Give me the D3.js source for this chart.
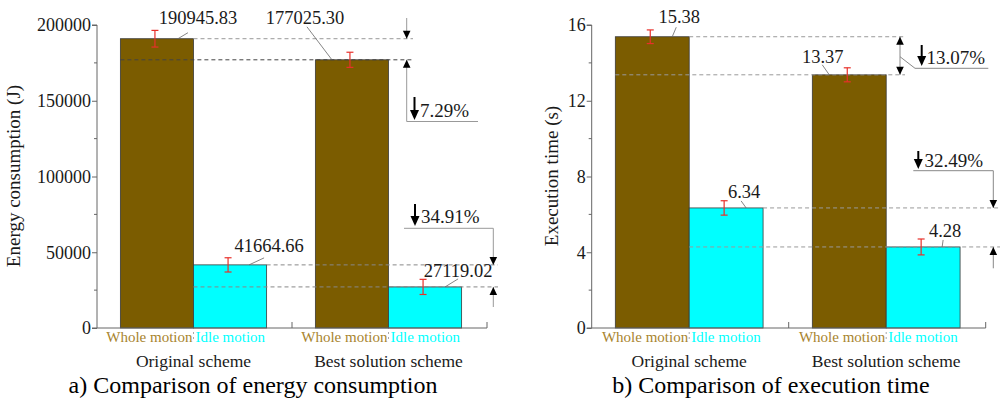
<!DOCTYPE html>
<html>
<head>
<meta charset="utf-8">
<script src="https://cdn.jsdelivr.net/npm/d3@7"></script>
<style>
  body { margin: 0; background: #fff; }
  svg { display: block; }
</style>
</head>
<body>
<svg id="chart" width="1000" height="402"></svg>
<script>
// data
const groups = ["Original scheme", "Best solution scheme"];
const parts = ["Whole motion", "Idle motion"];

const energyValues = [[190945.83, 41664.66], [177025.30, 27119.02]];
const energyErr = [[5500, 4700], [5000, 5000]];
const energyTicks = [0, 50000, 100000, 150000, 200000];
const energyMinor = [25000, 75000, 125000, 175000];

const timeValues = [[15.38, 6.34], [13.37, 4.28]];
const timeErr = [[0.36, 0.38], [0.37, 0.42]];
const timeTicks = [0, 4, 8, 12, 16];
const timeMinor = [2, 6, 10, 14];

const brown = "#7b5c00";
const cyan = "#00ffff";
const wholeText = "#a8842e";
const serif = '"Liberation Serif"';

let svg = d3.select("#chart");

function arrowHead(g, x, y, dir) {
    // dir 1 = pointing down (tip at y), -1 = pointing up
    let h = 8, w = 3.8;
    g.append("path")
        .attr("d", `M${x},${y} L${x - w},${y - dir * h} L${x + w},${y - dir * h} Z`)
        .attr("fill", "#000");
}

function bigDown(g, x, yTop, yTip) {
    g.append("line").attr("x1", x).attr("x2", x).attr("y1", yTop).attr("y2", yTip - 6)
        .attr("stroke", "#000").attr("stroke-width", 2);
    g.append("path")
        .attr("d", `M${x},${yTip} L${x - 4.5},${yTip - 10} L${x + 4.5},${yTip - 10} Z`)
        .attr("fill", "#000");
}

function dashed(g, x1, x2, y, col) {
    g.append("line").attr("x1", x1).attr("x2", x2).attr("y1", y).attr("y2", y)
        .attr("stroke", col).attr("stroke-width", 1).attr("stroke-dasharray", "4,3");
}

function label(g, x, y, size, txt) {
    return g.append("text").attr("x", x).attr("y", y)
        .style("font-family", serif).style("font-size", size + "px")
        .attr("fill", "#1a1a1a").text(txt);
}

function drawPanel(opt) {
    let g = svg.append("g");
    let x0 = opt.x0, x1 = opt.x1, yTop = 25, yBot = 328;

    let y = d3.scaleLinear().domain(opt.domain).range([yBot, yTop]);
    let xg = d3.scaleBand().domain(groups).range([x0, x1]);
    let xp = d3.scaleBand().domain(parts).range([0, xg.bandwidth() * 0.75]);
    let pairOff = (xg.bandwidth() - xp.range()[1]) / 2 - 1;

    // bars
    groups.forEach((grp, gi) => {
        parts.forEach((p, pi) => {
            let v = opt.values[gi][pi];
            g.append("rect")
                .attr("x", xg(grp) + pairOff + xp(p))
                .attr("y", y(v))
                .attr("width", xp.bandwidth())
                .attr("height", yBot - y(v))
                .attr("fill", pi === 0 ? brown : cyan)
                .attr("stroke", "#3a3a3a")
                .attr("stroke-width", 0.8);
        });
    });

    let barX = (gi, pi) => xg(groups[gi]) + pairOff + xp(parts[pi]);
    let bw = xp.bandwidth();

    // reference lines + annotations
    opt.annot(g, y, barX, bw);

    // error bars
    groups.forEach((grp, gi) => {
        parts.forEach((p, pi) => {
            let v = opt.values[gi][pi], e = opt.err[gi][pi];
            let cx = barX(gi, pi) + bw / 2 - 2;
            let eg = g.append("g").attr("stroke", "#e8302a").attr("stroke-width", 1.2);
            eg.append("line").attr("x1", cx).attr("x2", cx).attr("y1", y(v + e)).attr("y2", y(v - e));
            eg.append("line").attr("x1", cx - 3.5).attr("x2", cx + 3.5).attr("y1", y(v + e)).attr("y2", y(v + e));
            eg.append("line").attr("x1", cx - 3.5).attr("x2", cx + 3.5).attr("y1", y(v - e)).attr("y2", y(v - e));
        });
    });

    // value labels with leader lines
    groups.forEach((grp, gi) => {
        parts.forEach((p, pi) => {
            let v = opt.values[gi][pi];
            let L = opt.labels[gi][pi];
            let cx = barX(gi, pi) + bw / 2, ty = y(v);
            g.append("line")
                .attr("x1", cx + L.fx).attr("y1", ty)
                .attr("x2", cx + L.hx).attr("y2", ty + L.hy)
                .attr("stroke", "#666").attr("stroke-width", 0.8);
            label(g, cx + L.tx, ty + L.ty, 18.5, v.toFixed(2)).attr("text-anchor", "middle");
        });
    });

    // y axis
    let yAxis = g.append("g")
        .attr("transform", `translate(${x0},0)`)
        .call(d3.axisLeft(y).tickValues(opt.ticks).tickSize(5).tickPadding(1).tickFormat(d3.format("d")));
    yAxis.selectAll("text")
        .style("font-family", serif).style("font-size", "18px").attr("fill", "#1a1a1a");
    yAxis.select(".domain").attr("stroke", "#666").attr("d", `M-5,${yTop}H0V${yBot}H-5`);
    yAxis.selectAll(".tick line").attr("stroke", "#666");
    g.selectAll(".minor").data(opt.minor).enter().append("line")
        .attr("x1", x0 - 3).attr("x2", x0)
        .attr("y1", d => y(d)).attr("y2", d => y(d))
        .attr("stroke", "#666");

    // x axis
    let xAxis = g.append("g");
    xAxis.append("line").attr("x1", x0).attr("x2", x1).attr("y1", yBot).attr("y2", yBot).attr("stroke", "#666");
    [xg(groups[1]), x1].forEach(xx => {
        xAxis.append("line").attr("x1", xx).attr("x2", xx).attr("y1", yBot).attr("y2", yBot - 6).attr("stroke", "#666");
    });

    groups.forEach((grp, gi) => {
        let bx = barX(gi, 1);
        label(g, bx - 1, 342, 15, parts[0]).attr("text-anchor", "end").attr("fill", wholeText);
        g.append("line").attr("x1", bx).attr("x2", bx).attr("y1", 332).attr("y2", 341)
            .attr("stroke", "#aaa").attr("stroke-dasharray", "2,3");
        label(g, bx + 2, 342, 15, parts[1]).attr("fill", cyan);
        label(g, xg(grp) + xg.bandwidth() / 2 - 1, 367, 17.5, grp).attr("text-anchor", "middle");
    });

    // y title
    label(g, 0, 0, 19, opt.yTitle)
        .attr("transform", `translate(${opt.yTitleX},176) rotate(-90)`)
        .attr("text-anchor", "middle");

    // panel caption
    label(g, opt.captionX, 393, 24, opt.caption)
        .attr("text-anchor", "middle").attr("fill", "#000");
}

let pct = (a, b) => ((a - b) / a * 100).toFixed(2) + "%";

drawPanel({
    x0: 97, x1: 487, domain: [0, 200000],
    values: energyValues, err: energyErr, ticks: energyTicks, minor: energyMinor,
    yTitle: "Energy consumption (J)", yTitleX: 20,
    caption: "a) Comparison of energy consumption", captionX: 253,
    labels: [
        [{tx: 41, ty: -15, fx: 21, hx: 31, hy: -6}, {tx: 39, ty: -13, fx: 19, hx: 34, hy: -7}],
        [{tx: -47, ty: -36, fx: -20, hx: -45, hy: -33}, {tx: 33, ty: -9.5, fx: 20, hx: 33, hy: -8}]
    ],
    annot: function (g, y, barX, bw) {
        let v = energyValues;
        // whole motion
        let yA = y(v[0][0]), yB = y(v[1][0]);
        dashed(g, barX(0, 0) + bw, 413, yA, "#999");
        dashed(g, barX(0, 0), 413, yB, "#444");
        let ax = 406.7;
        g.append("path").attr("d", `M${ax},18V${yA} M${ax},${yB}V121.5H478`)
            .attr("fill", "none").attr("stroke", "#999").attr("stroke-width", 1);
        arrowHead(g, ax, yA, 1);
        arrowHead(g, ax, yB, -1);
        bigDown(g, 414.5, 97, 120);
        label(g, 420, 117, 19, pct(v[0][0], v[1][0]));
        // idle motion
        let yC = y(v[0][1]), yD = y(v[1][1]);
        dashed(g, barX(0, 1) + bw, 498, yC, "#888");
        dashed(g, barX(0, 1), 498, yD, "#888");
        let bx = 493.3;
        g.append("path").attr("d", `M404,228.3H${bx}V${yC} M${bx},${yD}V307`)
            .attr("fill", "none").attr("stroke", "#999").attr("stroke-width", 1);
        arrowHead(g, bx, yC, 1);
        arrowHead(g, bx, yD, -1);
        bigDown(g, 415, 204, 226);
        label(g, 421, 223, 19, pct(v[0][1], v[1][1]));
    }
});

drawPanel({
    x0: 591.7, x1: 985.7, domain: [0, 16],
    values: timeValues, err: timeErr, ticks: timeTicks, minor: timeMinor,
    yTitle: "Execution time (s)", yTitleX: 558,
    caption: "b) Comparison of execution time", captionX: 771,
    labels: [
        [{tx: 27, ty: -13.5, fx: 20, hx: 24, hy: -9.5}, {tx: 18, ty: -10, fx: 20, hx: 15, hy: -7}],
        [{tx: -26.5, ty: -12, fx: -20, hx: -27, hy: -10}, {tx: 22, ty: -10, fx: 19, hx: 20, hy: -7}]
    ],
    annot: function (g, y, barX, bw) {
        let v = timeValues;
        let yA = y(v[0][0]), yB = y(v[1][0]);
        dashed(g, barX(0, 0) + bw, 905, yA, "#999");
        dashed(g, barX(0, 0), 905, yB, "#999");
        let ax = 900;
        g.append("path").attr("d", `M${ax},${yA}V${yB} M${ax},56.7L915,68.3H988.3`)
            .attr("fill", "none").attr("stroke", "#888").attr("stroke-width", 1);
        arrowHead(g, ax, yA, -1);
        arrowHead(g, ax, yB, 1);
        bigDown(g, 921.7, 45, 66);
        label(g, 926.5, 64, 19, pct(v[0][0], v[1][0]));

        let yC = y(v[0][1]), yD = y(v[1][1]);
        dashed(g, barX(0, 1) + bw, 1000, yC, "#999");
        dashed(g, barX(0, 1), 1000, yD, "#999");
        let bx = 993.3;
        g.append("path").attr("d", `M913.3,170.7H${bx}V${yC} M${bx},${yD}V268.3`)
            .attr("fill", "none").attr("stroke", "#888").attr("stroke-width", 1);
        arrowHead(g, bx, yC, 1);
        arrowHead(g, bx, yD, -1);
        bigDown(g, 918.3, 151, 169);
        label(g, 924.5, 166.5, 19, pct(v[0][1], v[1][1]));
    }
});
</script>
</body>
</html>
